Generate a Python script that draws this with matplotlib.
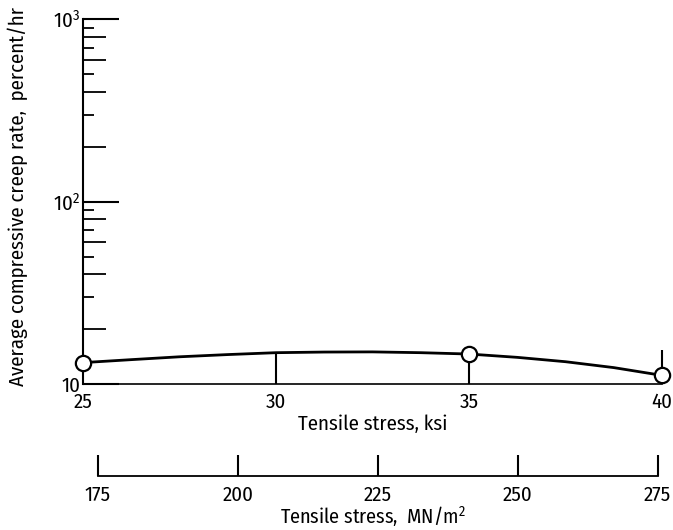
import numpy as np
import matplotlib
matplotlib.use('Agg')
import matplotlib.pyplot as plt

# data
ksi_curve = [25, 26.25, 27.5, 28.75, 30, 31.25, 32.5, 33.75, 35, 36.25, 37.5, 38.75, 40]
rate_curve = [13.1, 13.6, 14.1, 14.5, 14.85, 14.97, 15.0, 14.85, 14.6, 14.0, 13.25, 12.3, 11.15]
ksi_points = [25, 35, 40]
rate_points = [13.1, 14.6, 11.15]
drop_ksi = [30, 35, 40]
drop_top = [14.85, 14.6, 15.4]
ksi_ticks = [25, 30, 35, 40]
mpa_ticks = [175, 200, 225, 250, 275]
KSI_TO_MPA = 6.894757

plt.rcParams['font.family'] = ['Fira Sans Condensed', 'DejaVu Sans']
plt.rcParams['font.size'] = 15

fig = plt.figure(figsize=(6.73, 5.3), dpi=100)
ax = fig.add_axes([83 / 673, 1 - 384 / 530, 579 / 673, 364.7 / 530])

ax.set_yscale('log')
ax.set_ylim(10, 1000)
ax.set_xlim(25, 40)

ax.plot(ksi_curve, rate_curve, color='black', lw=2, zorder=3)
ax.plot(ksi_points, rate_points, 'o', ms=11, mfc='white', mec='black', mew=1.6,
        zorder=4, clip_on=False)
ax.vlines(drop_ksi, 10, drop_top, color='black', lw=1.5, zorder=2, clip_on=False)

for s in ['top', 'right']:
    ax.spines[s].set_visible(False)
ax.spines['left'].set_linewidth(1.5)
ax.spines['bottom'].set_linewidth(1.2)

# y ticks: decades long, even minors medium
ax.set_yticks([10, 100, 1000], labels=['10', r'$\mathregular{10^2}$', r'$\mathregular{10^3}$'])
ax.set_yticks([20, 40, 60, 80, 200, 400, 600, 800], minor=True)
ax.yaxis.set_minor_formatter(plt.NullFormatter())
ax.tick_params(axis='y', which='major', direction='in', length=26, width=1.5, pad=2)
ax.tick_params(axis='y', which='minor', direction='in', length=16.5, width=1.3)
ax.set_xticks(ksi_ticks)
ax.tick_params(axis='x', length=0, pad=6)

# odd minors short, on a twin axis
tw = ax.twinx()
tw.set_yscale('log')
tw.set_ylim(ax.get_ylim())
tw.yaxis.tick_left()
tw.set_yticks([30, 50, 70, 90, 300, 500, 700, 900], minor=True)
tw.set_yticks([])
tw.yaxis.set_minor_formatter(plt.NullFormatter())
tw.tick_params(axis='y', which='minor', direction='in', length=8, width=1.3)
for s in tw.spines.values():
    s.set_visible(False)

ax.set_xlabel('Tensile stress, ksi', labelpad=2)
ax.set_ylabel('Average compressive creep rate,  percent/hr')
ax.yaxis.set_label_coords(-0.095, 0.515)

# second scale in MN/m^2
bx = fig.add_axes([83 / 673, 1 - 476 / 530, 579 / 673, 0.001])
bx.set_xlim(25 * KSI_TO_MPA, 40 * KSI_TO_MPA)
bx.set_yticks([])
for s in ['top', 'right', 'left']:
    bx.spines[s].set_visible(False)
bx.spines['bottom'].set_bounds(mpa_ticks[0], mpa_ticks[-1])
bx.spines['bottom'].set_linewidth(1.3)
bx.set_xticks(mpa_ticks)
bx.tick_params(axis='x', direction='in', length=15, width=1.5, pad=7)
bx.patch.set_visible(False)
bx.set_xlabel(r'Tensile stress,  MN/m$\mathregular{^2}$', labelpad=-1, fontsize=14.5)

fig.savefig('out.png', dpi=100)
